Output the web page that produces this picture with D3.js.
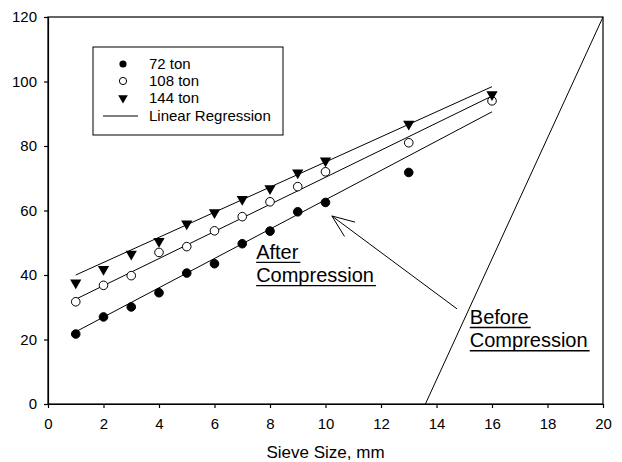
<!DOCTYPE html>
<html>
<head>
<meta charset="utf-8">
<script src="https://cdn.jsdelivr.net/npm/d3@7"></script>
<style>
  body { margin: 0; background: #fff; }
  svg { font-family: "Liberation Sans", Arial, sans-serif; }
  .axis path, .axis line { stroke: #000; stroke-width: 1.2; }
  .axis text { font-size: 15px; fill: #000; }
</style>
</head>
<body>
<div id="chart"></div>
<script>
// sieve sizes (mm)
var sizes72 = [1, 2, 3, 4, 5, 6, 7, 8, 9, 10, 13];
var sizes108 = [1, 2, 3, 4, 5, 6, 7, 8, 9, 10, 13, 16];
var sizes144 = [1, 2, 3, 4, 5, 6, 7, 8, 9, 10, 13, 16];
// percent passing
var pass72 = [21.7, 27.0, 30.1, 34.5, 40.6, 43.5, 49.7, 53.6, 59.6, 62.5, 71.8];
var pass108 = [31.7, 36.8, 39.8, 47.0, 48.8, 53.7, 58.1, 62.7, 67.4, 72.0, 81.0, 94.0];
var pass144 = [37.6, 41.8, 46.5, 50.5, 55.9, 59.4, 63.5, 66.8, 71.7, 75.4, 86.8, 96.0];
// regression lines, values at x = 1 and x = 16
var regX = [1, 16];
var reg72 = [22.4, 90.6];
var reg108 = [32.5, 95.5];
var reg144 = [40.0, 98.4];
// gradation before compression
var beforeX = [13.6, 20];
var beforeY = [0, 120];

var seriesNames = ["72 ton", "108 ton", "144 ton"];
var xTicks = [0, 2, 4, 6, 8, 10, 12, 14, 16, 18, 20];
var yTicks = [0, 20, 40, 60, 80, 100, 120];

var width = 622, height = 462;
var margin = {top: 17, right: 19, bottom: 58, left: 48};

var svg = d3.select("#chart")
            .append("svg")
            .attr("width", width)
            .attr("height", height);

var x = d3.scaleLinear().domain([0, 20]).range([margin.left, width - margin.right]);
var y = d3.scaleLinear().domain([0, 120]).range([height - margin.bottom, margin.top]);

// frame
svg.append("rect")
   .attr("x", x(0)).attr("y", y(120))
   .attr("width", x(20) - x(0)).attr("height", y(0) - y(120))
   .attr("fill", "none").attr("stroke", "#000").attr("stroke-width", 1.2);

svg.append("g")
   .attr("class", "axis")
   .attr("transform", "translate(0," + y(0) + ")")
   .call(d3.axisBottom(x).tickValues(xTicks).tickSize(4).tickSizeOuter(0).tickPadding(10));

svg.append("g")
   .attr("class", "axis")
   .attr("transform", "translate(" + x(0) + ",0)")
   .call(d3.axisLeft(y).tickValues(yTicks).tickSize(4).tickSizeOuter(0).tickPadding(7));

svg.append("text")
   .attr("x", (x(0) + x(20)) / 2)
   .attr("y", 458)
   .attr("text-anchor", "middle")
   .style("font-size", "17px")
   .text("Sieve Size, mm");

// before compression line
svg.append("line")
   .attr("x1", x(beforeX[0])).attr("y1", y(beforeY[0]))
   .attr("x2", x(beforeX[1])).attr("y2", y(beforeY[1]))
   .attr("stroke", "#000").attr("stroke-width", 1);

// regression lines
[reg72, reg108, reg144].forEach(function (r) {
  svg.append("line")
     .attr("x1", x(regX[0])).attr("y1", y(r[0]))
     .attr("x2", x(regX[1])).attr("y2", y(r[1]))
     .attr("stroke", "#000").attr("stroke-width", 1);
});

var tri = d3.symbol().type(d3.symbolTriangle).size(55);

function drawCircles(xs, ys, filled) {
  svg.append("g").selectAll("circle")
     .data(xs)
     .enter()
     .append("circle")
     .attr("cx", (d) => x(d))
     .attr("cy", (d, i) => y(ys[i]))
     .attr("r", 4.3)
     .attr("fill", filled ? "#000" : "#fff")
     .attr("stroke", "#000")
     .attr("stroke-width", 1);
}
drawCircles(sizes72, pass72, true);
drawCircles(sizes108, pass108, false);

svg.append("g").selectAll("path")
   .data(sizes144)
   .enter()
   .append("path")
   .attr("d", tri)
   .attr("transform", (d, i) => "translate(" + x(d) + "," + y(pass144[i]) + ") rotate(180)")
   .attr("fill", "#000");

// legend
var legend = svg.append("g");
legend.append("rect")
      .attr("x", 93).attr("y", 47).attr("width", 190).attr("height", 88)
      .attr("fill", "#fff").attr("stroke", "#000").attr("stroke-width", 1);
var rowY = [64, 81, 98, 116];
legend.append("circle").attr("cx", 123).attr("cy", rowY[0]).attr("r", 3.6).attr("fill", "#000");
legend.append("circle").attr("cx", 123).attr("cy", rowY[1]).attr("r", 3.6)
      .attr("fill", "#fff").attr("stroke", "#000").attr("stroke-width", 1);
legend.append("path").attr("d", d3.symbol().type(d3.symbolTriangle).size(40))
      .attr("transform", "translate(123," + rowY[2] + ") rotate(180)").attr("fill", "#000");
legend.append("line").attr("x1", 103).attr("x2", 138).attr("y1", rowY[3]).attr("y2", rowY[3])
      .attr("stroke", "#000").attr("stroke-width", 1);
seriesNames.concat(["Linear Regression"]).forEach(function (t, i) {
  legend.append("text")
        .attr("x", 149).attr("y", rowY[i]).attr("dy", "0.36em")
        .style("font-size", "15px")
        .text(t);
});

// underlined annotation text
function label(lines, xv, yvs) {
  lines.forEach(function (t, i) {
    var txt = svg.append("text")
                 .attr("x", x(xv)).attr("y", y(yvs[i]))
                 .style("font-size", "20px")
                 .text(t);
    var w = txt.node().getComputedTextLength();
    svg.append("line")
       .attr("x1", x(xv)).attr("x2", x(xv) + w + 2)
       .attr("y1", y(yvs[i]) + 3.5).attr("y2", y(yvs[i]) + 3.5)
       .attr("stroke", "#000").attr("stroke-width", 1.3);
  });
}
label(["After", "Compression"], 7.5, [45, 37.8]);
label(["Before", "Compression"], 15.2, [24.8, 17.6]);

// arrow from "Before" label to the 72 ton line
var tip = [x(10.23), y(58.3)], tail = [x(14.74), y(29.5)];
svg.append("line")
   .attr("x1", tail[0]).attr("y1", tail[1]).attr("x2", tip[0]).attr("y2", tip[1])
   .attr("stroke", "#000").attr("stroke-width", 1);
var ang = Math.atan2(tail[1] - tip[1], tail[0] - tip[0]);
[-0.38, 0.38].forEach(function (a) {
  svg.append("line")
     .attr("x1", tip[0]).attr("y1", tip[1])
     .attr("x2", tip[0] + 24 * Math.cos(ang + a)).attr("y2", tip[1] + 24 * Math.sin(ang + a))
     .attr("stroke", "#000").attr("stroke-width", 1);
});
</script>
</body>
</html>
